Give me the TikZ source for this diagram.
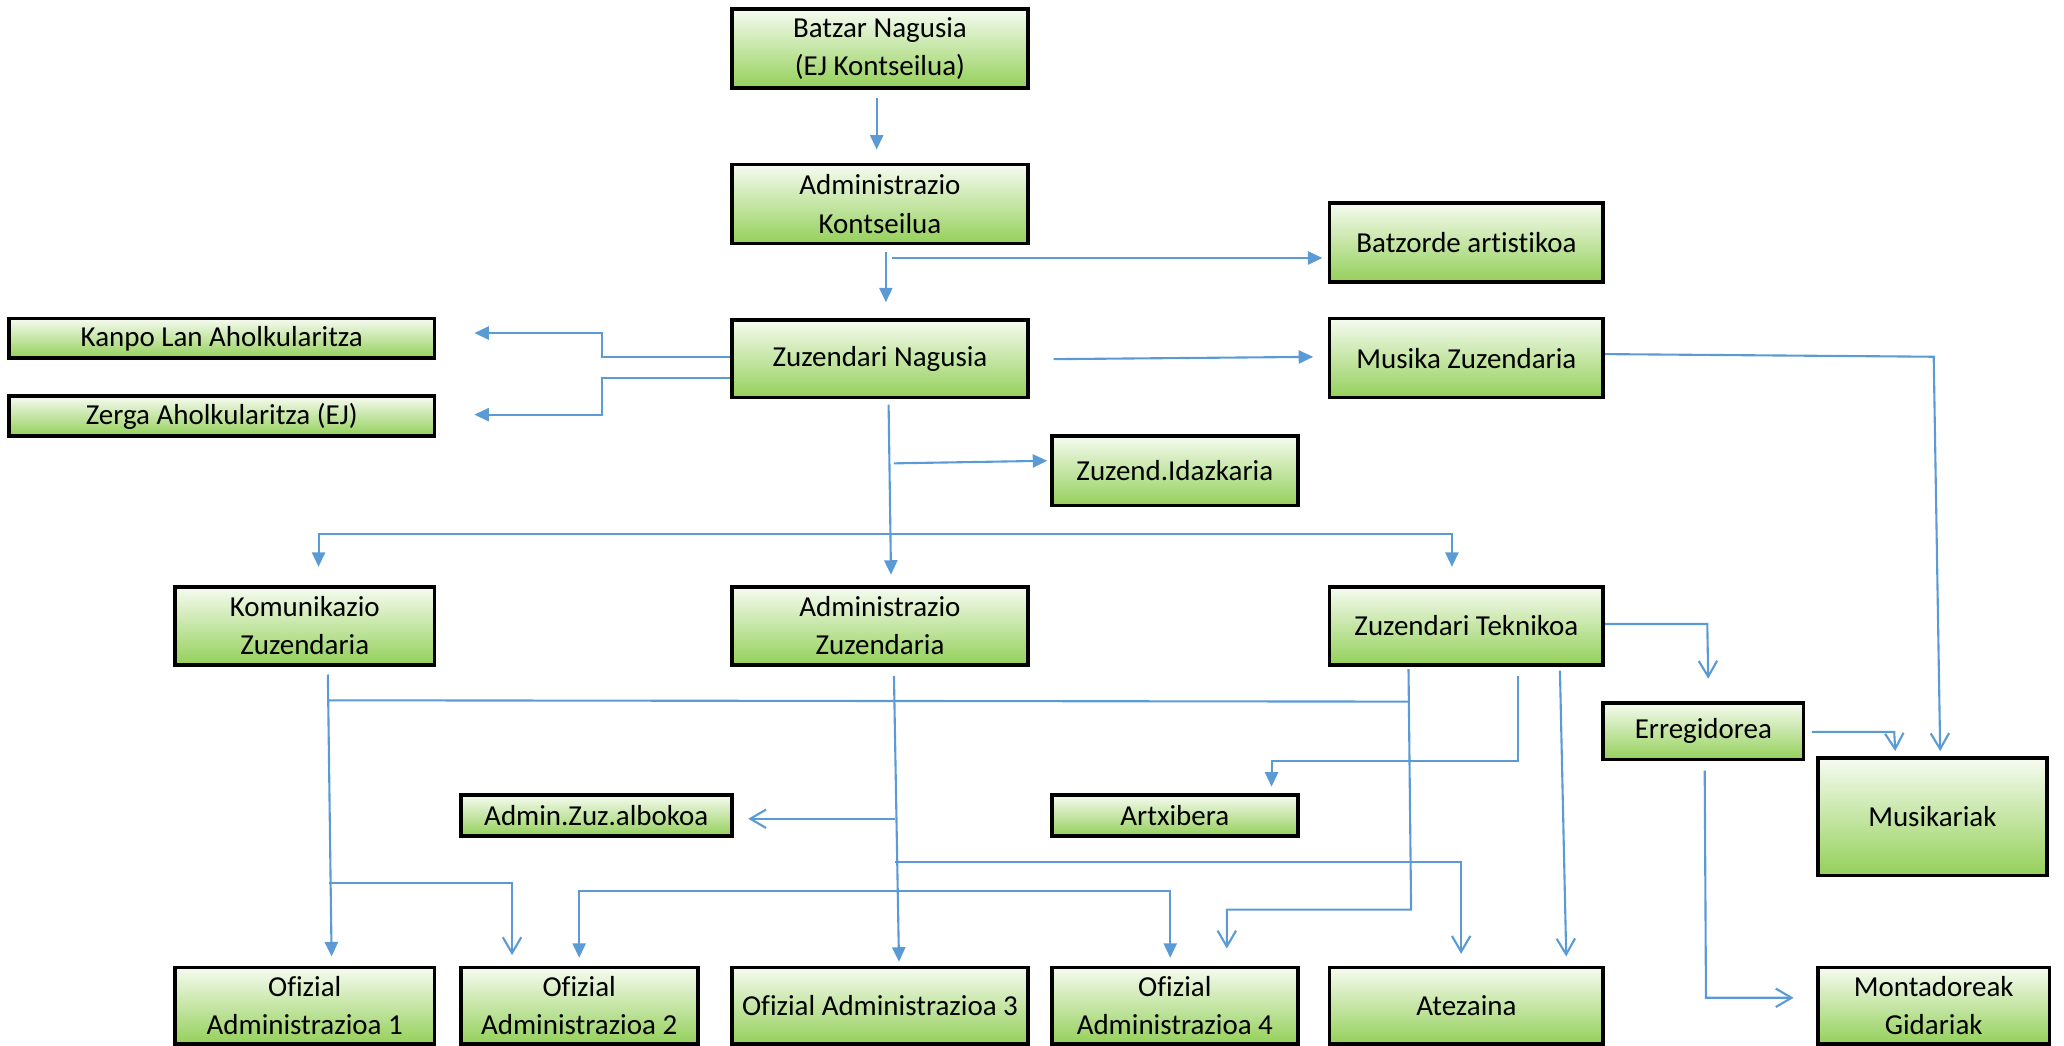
\documentclass[tikz,border=0pt]{standalone}
\usepackage{fontspec}
\setmainfont{Carlito}[Ligatures=NoCommon]
\usetikzlibrary{arrows.meta,calc}
\definecolor{lb}{HTML}{5B9BD5}
\definecolor{gtop}{HTML}{F6FBF0}
\definecolor{gbot}{HTML}{94D05A}
\newcommand\bx[6]{\node[box,minimum width={(#4-#2)*0.5pt},minimum height={(#5-#3)*0.5pt}] (#1) at ({(#2+#4)/2},{(#3+#5)/2}) {#6};}
\begin{document}
\begin{tikzpicture}[x=0.5pt,y=-0.5pt,
  box/.style={draw=black,line width=1.4pt,top color=gtop,bottom color=gbot,
    inner sep=0pt,align=center,font=\fontsize{11}{14.5}\selectfont},
  conn/.style={draw=lb,line width=0.8pt},
  fa/.style={conn,-{Triangle[length=5.5pt,width=5pt]}},
  oa/.style={conn,-{Straight Barb[length=6pt,width=7pt]}}]
\useasboundingbox (0,0) rectangle (1568,794);
% boxes
\bx{bn}{556}{7}{781}{67}{Batzar Nagusia\\(EJ Kontseilua)}
\bx{ak}{556}{125}{781}{185}{Administrazio\\Kontseilua}
\bx{zn}{556}{243}{781}{302}{Zuzendari Nagusia}
\bx{ba}{1010}{154}{1218}{214}{Batzorde artistikoa}
\bx{mz}{1010}{242}{1218}{302}{Musika Zuzendaria}
\bx{kl}{7}{242}{330}{272}{Kanpo Lan Aholkularitza}
\bx{za}{7}{301}{330}{331}{Zerga Aholkularitza (EJ)}
\bx{zi}{799}{331}{986}{384}{Zuzend.Idazkaria}
\bx{kz}{133}{446}{330}{505}{Komunikazio\\Zuzendaria}
\bx{az}{556}{446}{781}{505}{Administrazio\\Zuzendaria}
\bx{zt}{1010}{446}{1218}{505}{Zuzendari Teknikoa}
\bx{er}{1218}{534}{1370}{577}{Erregidorea}
\bx{mu}{1381}{576}{1555}{665}{Musikariak}
\bx{al}{350}{604}{556}{635}{Admin.Zuz.albokoa}
\bx{ar}{799}{604}{986}{635}{Artxibera}
\bx{o1}{133}{735}{330}{793}{Ofizial\\Administrazioa 1}
\bx{o2}{350}{735}{530}{793}{Ofizial\\Administrazioa 2}
\bx{o3}{556}{735}{781}{793}{Ofizial Administrazioa 3}
\bx{o4}{799}{735}{986}{793}{Ofizial\\Administrazioa 4}
\bx{at}{1010}{735}{1218}{793}{Atezaina}
\bx{mg}{1381}{735}{1557}{793}{Montadoreak\\Gidariak}
% free junction coordinates
\coordinate (p3) at (678,196);
\coordinate (p8) at (679,352);
\coordinate (p9) at (675,406);
\coordinate (q1) at (249,532);
\coordinate (q2) at (1071,533);
\coordinate (q3) at (680,677);
\coordinate (q4) at (680,622);
\coordinate (q5) at (680,655);
\coordinate (q6) at (250,671);
% connectors
\draw[fa,shorten <=3pt,shorten >=5pt] (666,0 |- bn.south) -- (666,0 |- ak.north);
\draw[fa,shorten <=2.5pt,shorten >=6pt] (673,0 |- ak.south) -- (673,0 |- zn.north);
\draw[fa,shorten >=2pt] (p3) -- (ba.west |- p3);
\draw[fa,shorten <=9pt,shorten >=5.5pt] (zn.east |- 0,273) -- (mz.west |- 0,271);
\draw[fa,shorten >=14.5pt] (zn.west |- 0,271) -| (457,253) -- (kl.east |- 0,253);
\draw[fa,shorten >=14.5pt] (zn.west |- 0,287) -| (457,315) -- (za.east |- 0,315);
\draw[fa,shorten <=2pt,shorten >=4pt] (675,0 |- zn.south) -- (677,0 |- az.north);
\draw[fa,shorten >=1pt] (p8) -- (zi.west |- 0,350);
\draw[fa,shorten >=7pt] (p9) -| (242,0 |- kz.north);
\draw[fa,shorten >=7pt] (p9) -| (1103,0 |- zt.north);
\draw[oa,shorten >=2pt] (mz.east |- 0,269) -- (1469,271) -- (1474,0 |- mu.north);
\draw[oa,shorten >=8.5pt] (zt.east |- 0,474) -- (1297,474) -- (1298,0 |- er.north);
\draw[oa,shorten <=2.5pt,shorten >=2pt] (er.east |- 0,556) -- (1439,556) -- (1440,0 |- mu.north);
\draw[oa,shorten <=3.5pt,shorten >=8.5pt] (1295,0 |- er.south) -- (1296,758) -- (mg.west |- 0,758);
\draw[fa,shorten <=3.5pt,shorten >=2.5pt] (1153,0 |- zt.south) -- (1153,578) -- (966,578) -- (966,0 |- ar.north);
\draw[oa,shorten <=1.5pt,shorten >=3.5pt] (1185,0 |- zt.south) -- (1190,0 |- at.north);
\draw[oa,shorten <=1pt,shorten >=6.5pt] (1070,0 |- zt.south) -- (1072,691) -- (932,691) -- (932,0 |- o4.north);
\draw[conn] (q1) -- (q2);
\draw[fa,shorten <=3pt,shorten >=3.5pt] (249,0 |- kz.south) -- (252,0 |- o1.north);
\draw[oa,shorten >=4pt] (q6) -| (389,0 |- o2.north);
\draw[fa,shorten >=3pt] (q3) -| (440,0 |- o2.north);
\draw[fa,shorten >=3pt] (q3) -| (889,0 |- o4.north);
\draw[fa,shorten <=3.5pt,shorten >=1.5pt] (679,0 |- az.south) -- (683,0 |- o3.north);
\draw[oa,shorten >=5.5pt] (q4) -- (al.east |- q4);
\draw[oa,shorten >=4.5pt] (q5) -| (1110,0 |- at.north);
\end{tikzpicture}
\end{document}
